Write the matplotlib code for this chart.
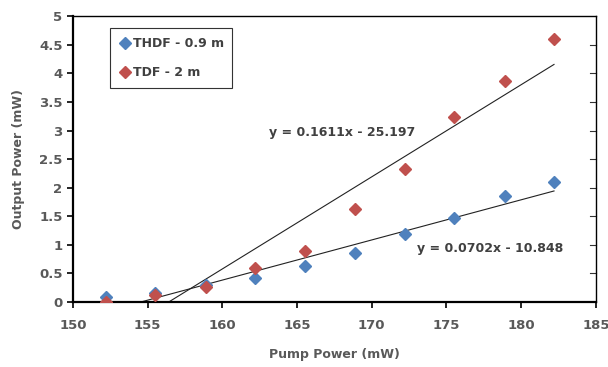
import numpy as np
import matplotlib.pyplot as plt

pump = [152.2, 155.5, 158.9, 162.2, 165.5, 168.9, 172.2, 175.5, 178.9, 182.2]
thdf = [0.09, 0.16, 0.30, 0.42, 0.63, 0.85, 1.19, 1.47, 1.86, 2.10]
tdf = [0.00, 0.13, 0.26, 0.60, 0.90, 1.62, 2.32, 3.23, 3.87, 4.60]

# trendline coefficients (slope, intercept)
fit_tdf = (0.1611, -25.197)
fit_thdf = (0.0702, -10.848)

grey = '#595959'
plt.rcParams['font.family'] = ['DejaVu Sans']

fig = plt.figure(figsize=(6.08, 3.67), dpi=100)
ax = fig.add_axes([0.120, 0.177, 0.860, 0.779])

ax.plot(pump, thdf, 'D', color='#4F81BD', markersize=6.5, label='THDF - 0.9 m', zorder=3)
ax.plot(pump, tdf, 'D', color='#C0504D', markersize=6.5, label='TDF - 2 m', zorder=3)

# trendlines, clipped at y = 0
for m, b in [fit_tdf, fit_thdf]:
    x0 = -b / m
    xs = np.array([x0, pump[-1]])
    ax.plot(xs, m * xs + b, color='#222222', lw=0.8, zorder=2)

ax.text(168.0, 2.96, 'y = 0.1611x - 25.197', fontsize=9, fontweight='bold', color='#404040', ha='center', va='center')
ax.text(177.9, 0.93, 'y = 0.0702x - 10.848', fontsize=9, fontweight='bold', color='#404040', ha='center', va='center')

yt = [0, 0.5, 1, 1.5, 2, 2.5, 3, 3.5, 4, 4.5, 5]
ax.set_xlim(150, 185)
ax.set_ylim(0, 5)
ax.set_xticks(range(150, 186, 5))
ax.set_yticks(yt)
ax.set_yticklabels(['0', '0.5', '1', '1.5', '2', '2.5', '3', '3.5', '4', '4.5', '5'])
ax.tick_params(axis='both', labelsize=9.5, labelcolor=grey, direction='out', length=4, width=1.2)
for lab in ax.get_xticklabels() + ax.get_yticklabels():
    lab.set_fontweight('bold')
ax.tick_params(axis='x', pad=8)

# small inward ticks on the right frame
for y in yt[1:-1]:
    ax.plot([0.988, 1.0], [y, y], transform=ax.get_yaxis_transform(), color='#333333', lw=0.8, clip_on=False)

for s in ['left', 'bottom']:
    ax.spines[s].set_linewidth(1.6)
for s in ['top', 'right']:
    ax.spines[s].set_linewidth(1.0)

ax.set_xlabel('Pump Power (mW)', fontsize=9, fontweight='bold', color=grey, labelpad=12)
ax.set_ylabel('Output Power (mW)', fontsize=9, fontweight='bold', color=grey, labelpad=10)

leg = ax.legend(loc='upper left', bbox_to_anchor=(0.071, 0.958), borderaxespad=0, fontsize=9,
                handletextpad=0.1, handlelength=1.0, labelspacing=1.3, borderpad=0.7,
                fancybox=False, framealpha=1, edgecolor='#333333')
leg.get_frame().set_linewidth(0.8)
for t in leg.get_texts():
    t.set_fontweight('bold')
    t.set_color('#404040')

fig.savefig('out.png', dpi=100)
